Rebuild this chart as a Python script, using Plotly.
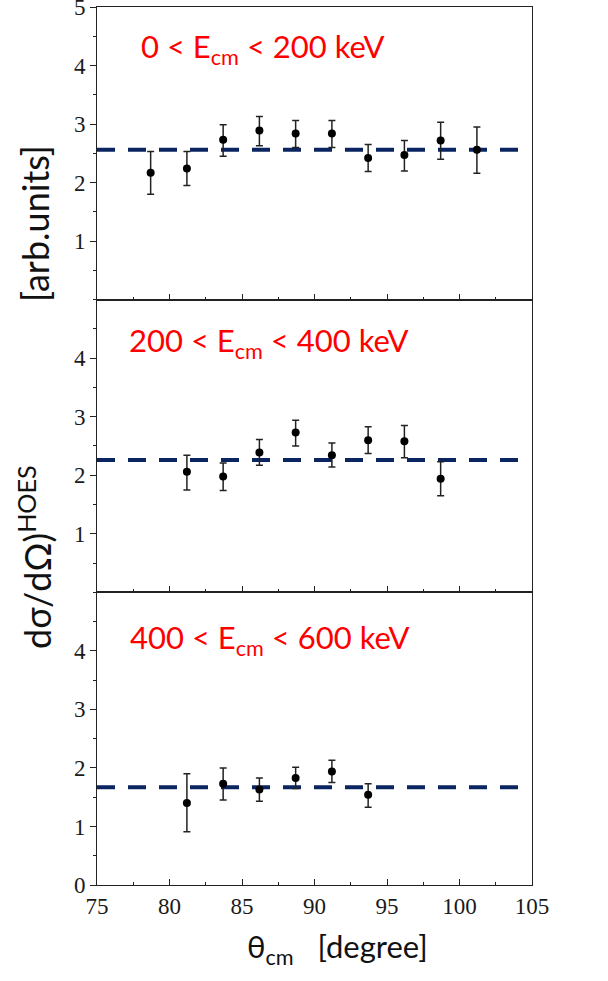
import plotly.graph_objects as go

# Angular distributions of the HOES cross section in three E_cm windows
theta_top = [78.7, 81.2, 83.7, 86.2, 88.7, 91.2, 93.7, 96.2, 98.7, 101.2]
xs_top = [2.17, 2.24, 2.73, 2.89, 2.84, 2.84, 2.42, 2.47, 2.72, 2.56]
up_top = [0.36, 0.29, 0.26, 0.24, 0.22, 0.22, 0.23, 0.25, 0.31, 0.39]
dn_top = [0.37, 0.29, 0.28, 0.26, 0.24, 0.24, 0.23, 0.27, 0.32, 0.40]
fit_top = 2.56

theta_mid = [81.2, 83.7, 86.2, 88.7, 91.2, 93.7, 96.2, 98.7]
xs_mid = [2.06, 1.98, 2.39, 2.73, 2.34, 2.60, 2.58, 1.94]
up_mid = [0.28, 0.23, 0.22, 0.21, 0.21, 0.23, 0.27, 0.29]
dn_mid = [0.31, 0.24, 0.22, 0.23, 0.20, 0.23, 0.28, 0.29]
fit_mid = 2.26

theta_bot = [81.2, 83.7, 86.2, 88.7, 91.2, 93.7]
xs_bot = [1.40, 1.73, 1.63, 1.83, 1.94, 1.54]
up_bot = [0.50, 0.27, 0.20, 0.18, 0.19, 0.19]
dn_bot = [0.49, 0.28, 0.20, 0.18, 0.19, 0.21]
fit_bot = 1.67

fit_span = [75, 104.5]
panel_labels = ["0 < E<sub>cm</sub> < 200 keV",
                "200 < E<sub>cm</sub> < 400 keV",
                "400 < E<sub>cm</sub> < 600 keV"]
x_ticks = [75, 80, 85, 90, 95, 100, 105]
y_ticks_per_panel = [[1, 2, 3, 4, 5], [1, 2, 3, 4], [0, 1, 2, 3, 4]]

W, H = 608, 981
ML, MR, MT, MB = 97, 76, 7, 96
PW, PH = W - ML - MR, H - MT - MB


def px_x(px):
    return (px - ML) / PW


def px_y(py):
    return (H - MB - py) / PH


fig = go.Figure()

panels = [
    (theta_top, xs_top, up_top, dn_top, fit_top, "x", "y"),
    (theta_mid, xs_mid, up_mid, dn_mid, fit_mid, "x2", "y2"),
    (theta_bot, xs_bot, up_bot, dn_bot, fit_bot, "x3", "y3"),
]

navy = "#0b2560"
for th, v, up, dn, fit, xa, ya in panels:
    fig.add_trace(go.Scatter(
        x=fit_span, y=[fit, fit], mode="lines", xaxis=xa, yaxis=ya,
        line=dict(color=navy, width=4, dash="18px,13px"),
        showlegend=False, hoverinfo="skip"))
    fig.add_trace(go.Scatter(
        x=th, y=v, mode="markers", xaxis=xa, yaxis=ya,
        marker=dict(color="black", size=8),
        error_y=dict(type="data", symmetric=False, array=up, arrayminus=dn,
                     color="#222222", thickness=1.5, width=3.5),
        showlegend=False))

tick_font = dict(family="Liberation Serif, Times New Roman, serif",
                 size=23, color="#1a1a1a")
domains = [[2 / 3, 1.0], [1 / 3, 2 / 3], [0.0, 1 / 3]]

layout = dict(
    width=W, height=H,
    margin=dict(l=ML, r=MR, t=MT, b=MB, autoexpand=False),
    paper_bgcolor="white", plot_bgcolor="white",
    showlegend=False,
)

for i in range(3):
    sfx = "" if i == 0 else str(i + 1)
    layout["xaxis" + sfx] = dict(
        range=[75, 105], domain=[0, 1], anchor="y" + sfx,
        tickmode="array", tickvals=x_ticks,
        ticks="inside", ticklen=6, tickwidth=1, tickcolor="#222",
        minor=dict(dtick=2.5, tick0=75, ticks="inside", ticklen=3,
                   tickcolor="#222", tickwidth=1),
        showticklabels=(i == 2), tickfont=tick_font, automargin=False,
        showline=True, linecolor="#222", linewidth=1, mirror=True,
        showgrid=False, zeroline=False,
    )
    layout["yaxis" + sfx] = dict(
        range=[0, 5], domain=domains[i], anchor="x" + sfx,
        tickmode="array", tickvals=y_ticks_per_panel[i],
        ticks="outside", ticklen=6, tickwidth=1, tickcolor="#222",
        minor=dict(dtick=0.5, tick0=0, ticks="outside", ticklen=3,
                   tickcolor="#222", tickwidth=1),
        tickfont=tick_font, ticklabeloverflow="allow", automargin=False,
        showline=True, linecolor="#222", linewidth=1, mirror=True,
        showgrid=False, zeroline=False,
    )

fig.update_layout(**layout)

sans = "Lato, 'Noto Sans', sans-serif"
label_pos = [(139, 49), (127, 342), (128, 639)]
for txt, (lx, ly) in zip(panel_labels, label_pos):
    fig.add_annotation(
        text=txt, xref="paper", yref="paper", x=px_x(lx), y=px_y(ly),
        xanchor="left", yanchor="middle", showarrow=False,
        font=dict(family=sans, size=31, color="#ff0000"))

fig.add_annotation(
    text="θ<sub>cm</sub>   [degree]", xref="paper", yref="paper",
    x=px_x(337), y=px_y(948), xanchor="center", yanchor="middle",
    showarrow=False, font=dict(family=sans, size=31, color="#111"))

fig.add_annotation(
    text="[arb.units]", xref="paper", yref="paper",
    x=px_x(35), y=px_y(224), xanchor="center", yanchor="middle",
    textangle=-90, showarrow=False,
    font=dict(family=sans, size=36, color="#111"))
fig.add_annotation(
    text="dσ/dΩ)<sup>HOES</sup>", xref="paper", yref="paper",
    x=px_x(35), y=px_y(557), xanchor="center", yanchor="middle",
    textangle=-90, showarrow=False,
    font=dict(family=sans, size=36, color="#111"))

fig.write_html("out.html")
